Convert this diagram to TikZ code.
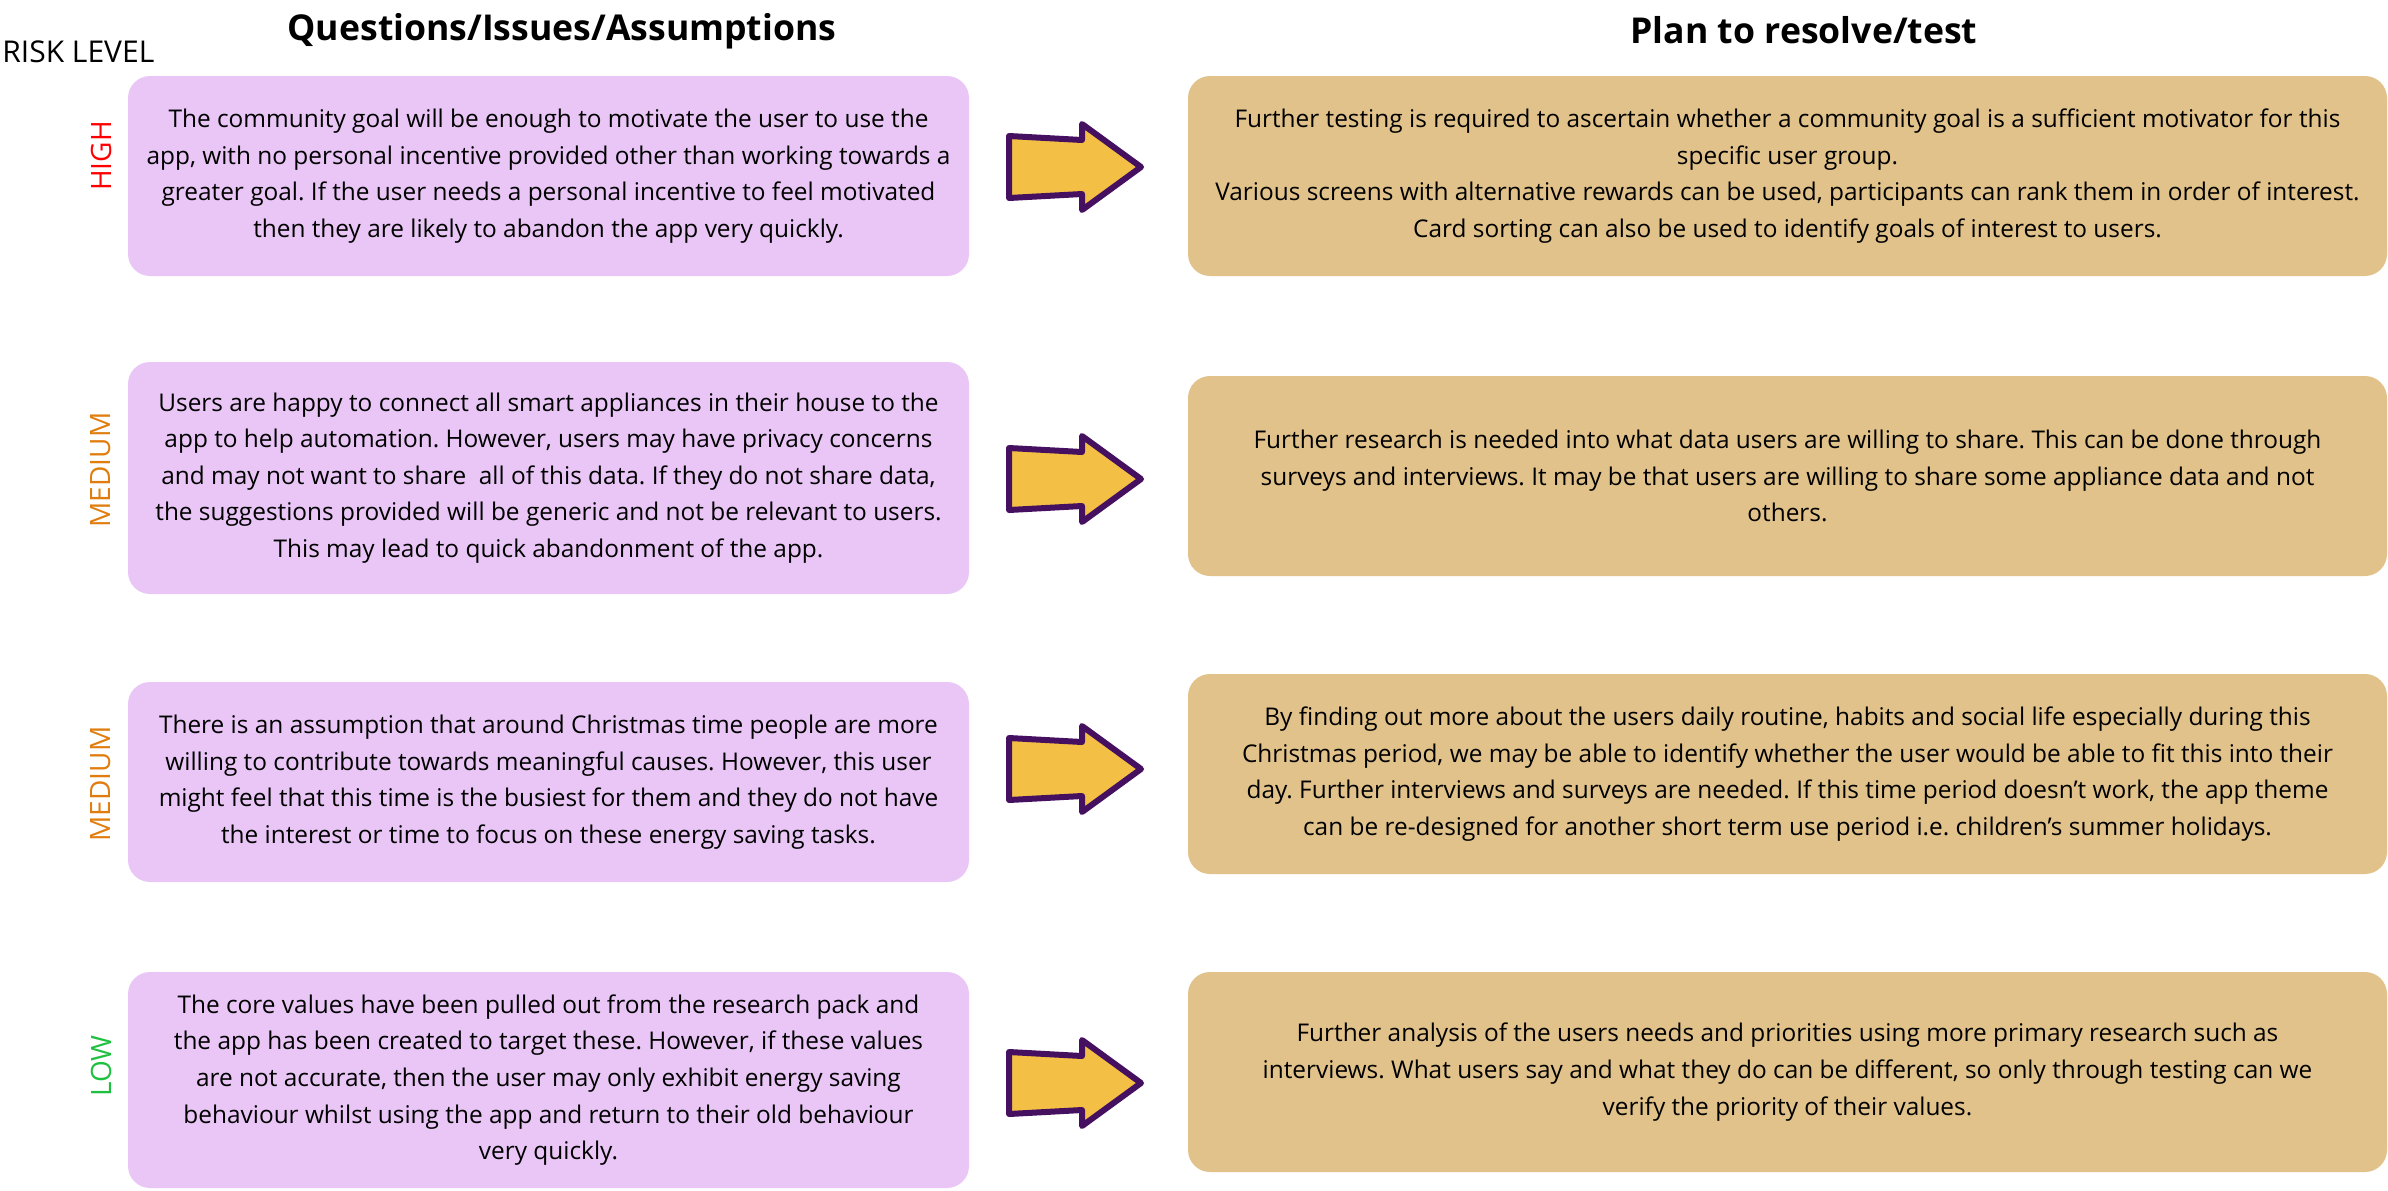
\documentclass[tikz,border=0pt]{standalone}
\usepackage{fontspec}
\setmainfont{Open Sans}
\usetikzlibrary{positioning,shapes}

\definecolor{lilac}{HTML}{E9C6F6}
\definecolor{sand}{HTML}{E1C28A}
\definecolor{arrowfill}{HTML}{F4BF45}
\definecolor{arrowline}{HTML}{461060}
\definecolor{riskhigh}{HTML}{FF0000}
\definecolor{riskmed}{HTML}{E07D0E}
\definecolor{risklow}{HTML}{1EC040}
\frenchspacing

\begin{document}
\begin{tikzpicture}[x=1pt,y=-1pt]
        \tikzstyle{question}=[fill=lilac, rectangle, rounded corners=11pt, align=center, minimum width=420.5pt, font=\fontsize{12.2}{18.3}\selectfont]
        \tikzstyle{plan}=[fill=sand, rectangle, rounded corners=11pt, align=center, minimum width=599.5pt, minimum height=100pt, font=\fontsize{12.2}{18.3}\selectfont]
        \tikzstyle{risk}=[rotate=90, font=\fontsize{14}{16}\selectfont]
        \tikzstyle{heading}=[font=\fontsize{17.8}{20}\selectfont\bfseries]
        \tikzstyle{fatarrow}=[fill=arrowfill, draw=arrowline, line width=3pt, line join=round]

        \useasboundingbox (0,0) rectangle (1194,595);

        % headings
        \node[font=\fontsize{15}{17}\selectfont, anchor=west, inner sep=1pt] (risklevel) at (0,26) {RISK LEVEL};
        \node[heading] (qtitle) at (281,15.5) {Questions/Issues/Assumptions};
        \node[heading] (ptitle) at (902,15) {Plan to resolve/test};

        % questions, issues, assumptions
        \node[question, minimum height=100pt] (q1) at (274.25,88) {The community goal will be enough to motivate the user to use the\\ app, with no personal incentive provided other than working towards a\\ greater goal. If the user needs a personal incentive to feel motivated\\ then they are likely to abandon the app very quickly.};
        \node[question, minimum height=116pt] (q2) at (274.25,239) {Users are happy to connect all smart appliances in their house to the\\ app to help automation. However, users may have privacy concerns\\ and may not want to share\ \ all of this data. If they do not share data,\\ the suggestions provided will be generic and not be relevant to users.\\ This may lead to quick abandonment of the app.};
        \node[question, minimum height=100pt] (q3) at (274.25,391) {There is an assumption that around Christmas time people are more\\ willing to contribute towards meaningful causes. However, this user\\ might feel that this time is the busiest for them and they do not have\\ the interest or time to focus on these energy saving tasks.};
        \node[question, minimum height=108pt] (q4) at (274.25,540) {The core values have been pulled out from the research pack and\\ the app has been created to target these. However, if these values\\ are not accurate, then the user may only exhibit energy saving\\ behaviour whilst using the app and return to their old behaviour\\ very quickly.};

        % risk levels
        \node[risk, text=riskhigh] (r1) at (50.5,78) {HIGH};
        \node[risk, text=riskmed] (r2) at (50.5,235) {MEDIUM};
        \node[risk, text=riskmed] (r3) at (50.5,392) {MEDIUM};
        \node[risk, text=risklow] (r4) at (50.5,533) {LOW};

        % plans
        \node[plan] (p1) at (893.75,88) {Further testing is required to ascertain whether a community goal is a sufficient motivator for this\\ specific user group.\\ Various screens with alternative rewards can be used, participants can rank them in order of interest.\\ Card sorting can also be used to identify goals of interest to users.};
        \node[plan] (p2) at (893.75,238) {Further research is needed into what data users are willing to share. This can be done through\\ surveys and interviews. It may be that users are willing to share some appliance data and not\\ others.};
        \node[plan] (p3) at (893.75,387) {By finding out more about the users daily routine, habits and social life especially during this\\ Christmas period, we may be able to identify whether the user would be able to fit this into their\\ day. Further interviews and surveys are needed. If this time period doesn’t work, the app theme\\ can be re-designed for another short term use period i.e. children’s summer holidays.};
        \node[plan] (p4) at (893.75,536) {Further analysis of the users needs and priorities using more primary research such as\\ interviews. What users say and what they do can be different, so only through testing can we\\ verify the priority of their values.};

        % arrows
        \coordinate (a1) at (504.5,83.5);
        \coordinate (a2) at (504.5,239.5);
        \coordinate (a3) at (504.5,384.5);
        \coordinate (a4) at (504.5,541.5);
        \foreach \a in {a1,a2,a3,a4}
            \draw[fatarrow] (\a) ++(0,-15.5) -- ++(36.5,2) -- ++(0,-8) -- ++(29.5,21.5)
                -- ++(-29.5,21.5) -- ++(0,-8) -- ++(-36.5,2) -- cycle;
    \end{tikzpicture}
\end{document}
